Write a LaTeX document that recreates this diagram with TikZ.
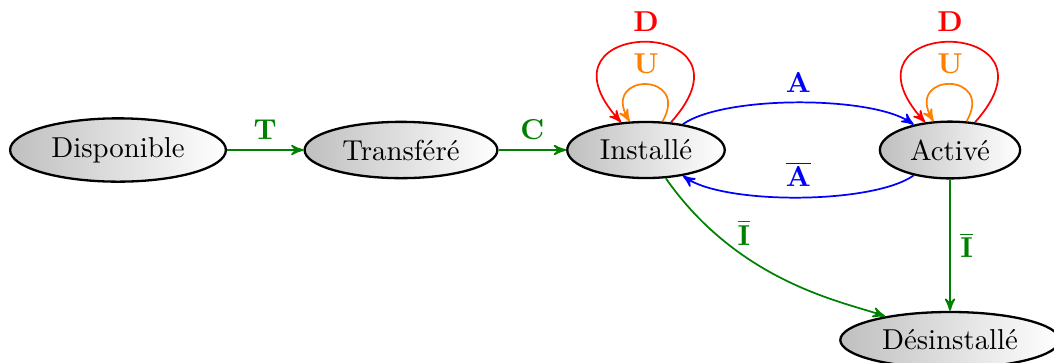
\documentclass[tikz,border=0pt]{standalone}
\usetikzlibrary{arrows,shapes.geometric}
\begin{document}
\begin{tikzpicture}[x=0.3472pt,y=0.3472pt,>=stealth',
  state/.style={ellipse,draw,thick,left color=black!25,right color=white},
  arr/.style={->,semithick},
  grn/.style={green!50!black}]
\useasboundingbox (0,0) rectangle (1054,362);
\node[state] (disp) at (118,212) {Disponible};
\node[state] (trans) at (401,212) {Transféré};
\node[state] (inst) at (646,212) {Installé};
\node[state] (act) at (950,212) {Activé};
\node[state] (desi) at (950,22) {Désinstallé};

\draw[arr,grn] (disp) -- node[above]{$\mathbf{T}$} (trans);
\draw[arr,grn] (trans) -- node[above]{$\mathbf{C}$} (inst);
\draw[arr,blue] (inst) to[bend left=35,looseness=0.56] node[above]{$\mathbf{A}$} (act);
\draw[arr,blue] (act) to[bend left=35,looseness=0.56] node[above]{$\overline{\mathbf{A}}$} (inst);
\draw[arr,grn] (inst) to[out=-55,in=160,out distance=45pt,in distance=14pt] node[pos=0.32,above]{$\overline{\mathbf{I}}$} (desi);
\draw[arr,grn] (act) -- node[right]{$\overline{\mathbf{I}}$} (desi);
\draw[arr,red] (inst) to[out=48,in=132,distance=50pt] node[above]{$\mathbf{D}$} (inst);
\draw[arr,orange] (inst) to[out=60,in=120,distance=19.8pt] node[above]{$\mathbf{U}$} (inst);
\draw[arr,red] (act) to[out=48,in=132,distance=50pt] node[above]{$\mathbf{D}$} (act);
\draw[arr,orange] (act) to[out=60,in=120,distance=19.8pt] node[above]{$\mathbf{U}$} (act);
\end{tikzpicture}
\end{document}
